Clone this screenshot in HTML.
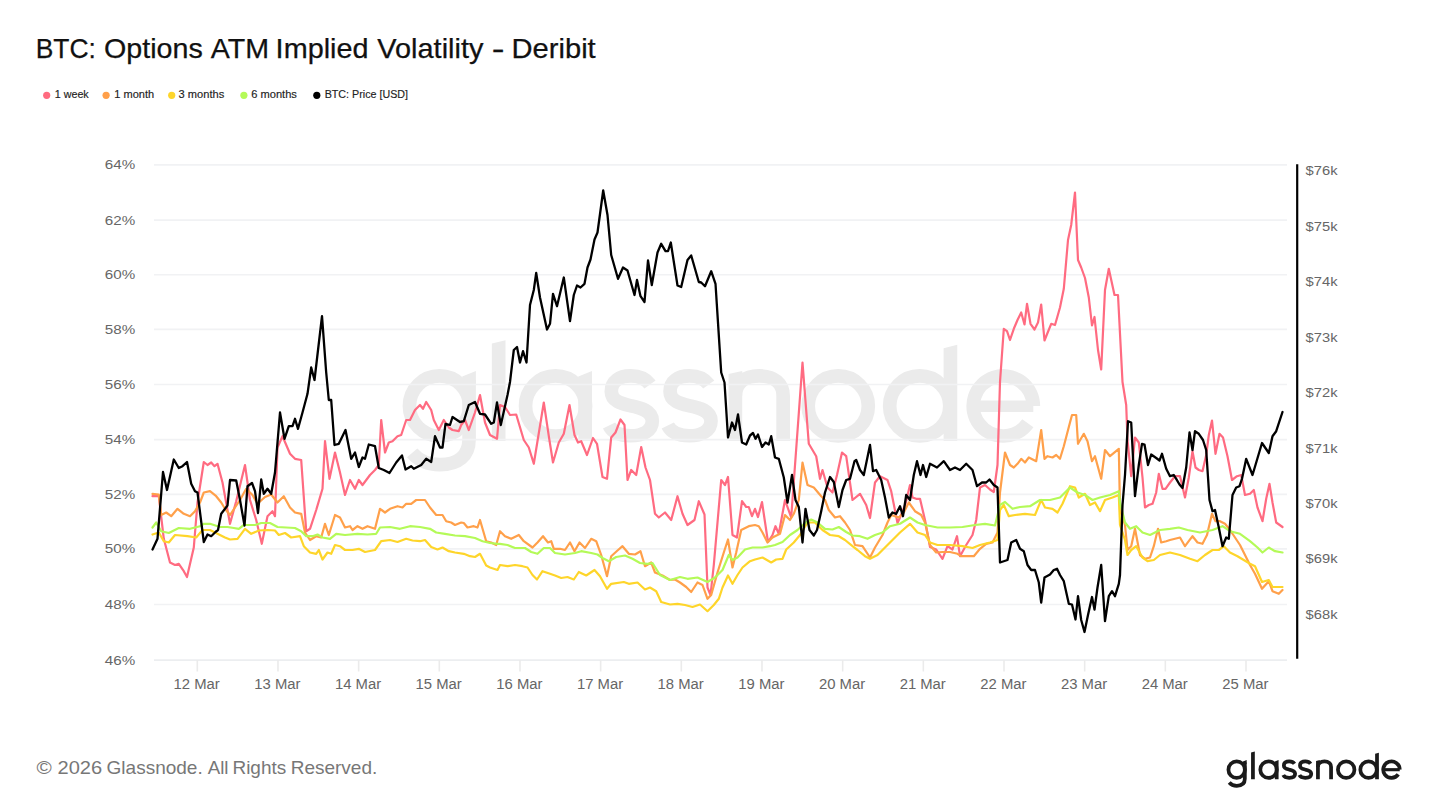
<!DOCTYPE html>
<html><head><meta charset="utf-8"><style>
html,body{margin:0;padding:0;background:#fff;}
body{width:1440px;height:810px;position:relative;overflow:hidden;font-family:"Liberation Sans",sans-serif;}
</style></head><body>
<svg width="1440" height="810" viewBox="0 0 1440 810" style="position:absolute;left:0;top:0">
<text x="35.72" y="58.1" font-size="27.6" fill="#111" stroke="#111" stroke-width="0.25" textLength="60.17" lengthAdjust="spacingAndGlyphs" font-family="Liberation Sans, sans-serif">BTC:</text>
<text x="104.04" y="58.1" font-size="27.6" fill="#111" stroke="#111" stroke-width="0.25" textLength="98.83" lengthAdjust="spacingAndGlyphs" font-family="Liberation Sans, sans-serif">Options</text>
<text x="210.73" y="58.1" font-size="27.6" fill="#111" stroke="#111" stroke-width="0.25" textLength="58.28" lengthAdjust="spacingAndGlyphs" font-family="Liberation Sans, sans-serif">ATM</text>
<text x="275.63" y="58.1" font-size="27.6" fill="#111" stroke="#111" stroke-width="0.25" textLength="92.90" lengthAdjust="spacingAndGlyphs" font-family="Liberation Sans, sans-serif">Implied</text>
<text x="377.36" y="58.1" font-size="27.6" fill="#111" stroke="#111" stroke-width="0.25" textLength="106.05" lengthAdjust="spacingAndGlyphs" font-family="Liberation Sans, sans-serif">Volatility</text>
<text x="491.77" y="58.1" font-size="27.6" fill="#111" stroke="#111" stroke-width="0.25" textLength="12.77" lengthAdjust="spacingAndGlyphs" font-family="Liberation Sans, sans-serif">-</text>
<text x="511.50" y="58.1" font-size="27.6" fill="#111" stroke="#111" stroke-width="0.25" textLength="84.22" lengthAdjust="spacingAndGlyphs" font-family="Liberation Sans, sans-serif">Deribit</text>
<circle cx="46.7" cy="95.3" r="3.6" fill="#ff6b80"/>
<text x="54.75" y="98" font-size="10.5" fill="#222" stroke="#222" stroke-width="0.15" textLength="34" lengthAdjust="spacingAndGlyphs" font-family="Liberation Sans, sans-serif">1 week</text>
<circle cx="106.1" cy="95.3" r="3.6" fill="#ffa04a"/>
<text x="114.3" y="98" font-size="10.5" fill="#222" stroke="#222" stroke-width="0.15" textLength="39.8" lengthAdjust="spacingAndGlyphs" font-family="Liberation Sans, sans-serif">1 month</text>
<circle cx="171.7" cy="95.3" r="3.6" fill="#fed52a"/>
<text x="178.6" y="98" font-size="10.5" fill="#222" stroke="#222" stroke-width="0.15" textLength="45.6" lengthAdjust="spacingAndGlyphs" font-family="Liberation Sans, sans-serif">3 months</text>
<circle cx="243.9" cy="95.3" r="3.6" fill="#b4fa58"/>
<text x="251.3" y="98" font-size="10.5" fill="#222" stroke="#222" stroke-width="0.15" textLength="45.6" lengthAdjust="spacingAndGlyphs" font-family="Liberation Sans, sans-serif">6 months</text>
<circle cx="316.8" cy="95.3" r="3.6" fill="#000"/>
<text x="324.7" y="98" font-size="10.5" fill="#222" stroke="#222" stroke-width="0.15" textLength="83.3" lengthAdjust="spacingAndGlyphs" font-family="Liberation Sans, sans-serif">BTC: Price [USD]</text>
<g transform="translate(386,316.3) scale(0.2276)" fill="none" color="#ebebeb" stroke="currentColor" stroke-width="60"><circle cx="235" cy="394" r="132"/>
<path d="M365,280 L365,540 C365,615 315,652 237,652 C185,652 145,635 115,600"/>
<polygon points="335,264 395,240 395,300 335,300" fill="currentColor" stroke="none"/>
<polygon points="465,120 525,105 525,548 465,548" fill="currentColor" stroke="none"/>
<circle cx="745" cy="394" r="132"/>
<polygon points="845,264 905,240 905,548 845,548" fill="currentColor" stroke="none"/>
<path d="M1160,300 C1140,272 1110,262 1075,262 C1025,262 990,285 990,330 C990,375 1040,385 1075,393 C1120,402 1170,415 1170,460 C1170,505 1125,525 1075,525 C1030,525 995,510 980,480"/>
<path transform="translate(258,0)" d="M1160,300 C1140,272 1110,262 1075,262 C1025,262 990,285 990,330 C990,375 1040,385 1075,393 C1120,402 1170,415 1170,460 C1170,505 1125,525 1075,525 C1030,525 995,510 980,480"/>
<polygon points="1505,254 1565,240 1565,548 1505,548" fill="currentColor" stroke="none"/>
<path d="M1535,350 C1535,295 1575,262 1640,262 C1705,262 1745,295 1745,350 L1745,548"/>
<circle cx="1987" cy="394" r="132"/>
<circle cx="2345" cy="394" r="132"/>
<polygon points="2450,140 2510,125 2510,548 2450,548" fill="currentColor" stroke="none"/>
<path d="M2600,395 L2844,395" stroke-width="50"/>
<path d="M2844,394 A132,132 0 1,0 2820,470"/></g>
<line x1="154" y1="164.94" x2="1287" y2="164.94" stroke="#f1f2f4" stroke-width="1.7"/>
<text x="135.2" y="169.44" font-size="13.7" fill="#666" text-anchor="end" textLength="30.4" lengthAdjust="spacingAndGlyphs" font-family="Liberation Sans, sans-serif">64%</text>
<line x1="154" y1="220.17" x2="1287" y2="220.17" stroke="#f1f2f4" stroke-width="1.7"/>
<text x="135.2" y="224.67" font-size="13.7" fill="#666" text-anchor="end" textLength="30.4" lengthAdjust="spacingAndGlyphs" font-family="Liberation Sans, sans-serif">62%</text>
<line x1="154" y1="274.75" x2="1287" y2="274.75" stroke="#f1f2f4" stroke-width="1.7"/>
<text x="135.2" y="279.25" font-size="13.7" fill="#666" text-anchor="end" textLength="30.4" lengthAdjust="spacingAndGlyphs" font-family="Liberation Sans, sans-serif">60%</text>
<line x1="154" y1="329.33" x2="1287" y2="329.33" stroke="#f1f2f4" stroke-width="1.7"/>
<text x="135.2" y="333.83" font-size="13.7" fill="#666" text-anchor="end" textLength="30.4" lengthAdjust="spacingAndGlyphs" font-family="Liberation Sans, sans-serif">58%</text>
<line x1="154" y1="384.50" x2="1287" y2="384.50" stroke="#f1f2f4" stroke-width="1.7"/>
<text x="135.2" y="389.00" font-size="13.7" fill="#666" text-anchor="end" textLength="30.4" lengthAdjust="spacingAndGlyphs" font-family="Liberation Sans, sans-serif">56%</text>
<line x1="154" y1="439.67" x2="1287" y2="439.67" stroke="#f1f2f4" stroke-width="1.7"/>
<text x="135.2" y="444.17" font-size="13.7" fill="#666" text-anchor="end" textLength="30.4" lengthAdjust="spacingAndGlyphs" font-family="Liberation Sans, sans-serif">54%</text>
<line x1="154" y1="494.30" x2="1287" y2="494.30" stroke="#f1f2f4" stroke-width="1.7"/>
<text x="135.2" y="498.80" font-size="13.7" fill="#666" text-anchor="end" textLength="30.4" lengthAdjust="spacingAndGlyphs" font-family="Liberation Sans, sans-serif">52%</text>
<line x1="154" y1="548.90" x2="1287" y2="548.90" stroke="#f1f2f4" stroke-width="1.7"/>
<text x="135.2" y="553.40" font-size="13.7" fill="#666" text-anchor="end" textLength="30.4" lengthAdjust="spacingAndGlyphs" font-family="Liberation Sans, sans-serif">50%</text>
<line x1="154" y1="604.50" x2="1287" y2="604.50" stroke="#f1f2f4" stroke-width="1.7"/>
<text x="135.2" y="609.00" font-size="13.7" fill="#666" text-anchor="end" textLength="30.4" lengthAdjust="spacingAndGlyphs" font-family="Liberation Sans, sans-serif">48%</text>
<line x1="154" y1="660.06" x2="1287" y2="660.06" stroke="#eceef0" stroke-width="1.7"/>
<text x="135.2" y="664.56" font-size="13.7" fill="#666" text-anchor="end" textLength="30.4" lengthAdjust="spacingAndGlyphs" font-family="Liberation Sans, sans-serif">46%</text>
<line x1="197.30" y1="660" x2="197.30" y2="671.5" stroke="#ebebeb" stroke-width="1.6"/>
<text x="196.70" y="689" font-size="15.2" fill="#666" text-anchor="middle" textLength="46.2" lengthAdjust="spacingAndGlyphs" font-family="Liberation Sans, sans-serif">12 Mar</text>
<line x1="277.97" y1="660" x2="277.97" y2="671.5" stroke="#ebebeb" stroke-width="1.6"/>
<text x="277.37" y="689" font-size="15.2" fill="#666" text-anchor="middle" textLength="46.2" lengthAdjust="spacingAndGlyphs" font-family="Liberation Sans, sans-serif">13 Mar</text>
<line x1="358.64" y1="660" x2="358.64" y2="671.5" stroke="#ebebeb" stroke-width="1.6"/>
<text x="358.04" y="689" font-size="15.2" fill="#666" text-anchor="middle" textLength="46.2" lengthAdjust="spacingAndGlyphs" font-family="Liberation Sans, sans-serif">14 Mar</text>
<line x1="439.31" y1="660" x2="439.31" y2="671.5" stroke="#ebebeb" stroke-width="1.6"/>
<text x="438.71" y="689" font-size="15.2" fill="#666" text-anchor="middle" textLength="46.2" lengthAdjust="spacingAndGlyphs" font-family="Liberation Sans, sans-serif">15 Mar</text>
<line x1="519.98" y1="660" x2="519.98" y2="671.5" stroke="#ebebeb" stroke-width="1.6"/>
<text x="519.38" y="689" font-size="15.2" fill="#666" text-anchor="middle" textLength="46.2" lengthAdjust="spacingAndGlyphs" font-family="Liberation Sans, sans-serif">16 Mar</text>
<line x1="600.65" y1="660" x2="600.65" y2="671.5" stroke="#ebebeb" stroke-width="1.6"/>
<text x="600.05" y="689" font-size="15.2" fill="#666" text-anchor="middle" textLength="46.2" lengthAdjust="spacingAndGlyphs" font-family="Liberation Sans, sans-serif">17 Mar</text>
<line x1="681.32" y1="660" x2="681.32" y2="671.5" stroke="#ebebeb" stroke-width="1.6"/>
<text x="680.72" y="689" font-size="15.2" fill="#666" text-anchor="middle" textLength="46.2" lengthAdjust="spacingAndGlyphs" font-family="Liberation Sans, sans-serif">18 Mar</text>
<line x1="761.99" y1="660" x2="761.99" y2="671.5" stroke="#ebebeb" stroke-width="1.6"/>
<text x="761.39" y="689" font-size="15.2" fill="#666" text-anchor="middle" textLength="46.2" lengthAdjust="spacingAndGlyphs" font-family="Liberation Sans, sans-serif">19 Mar</text>
<line x1="842.66" y1="660" x2="842.66" y2="671.5" stroke="#ebebeb" stroke-width="1.6"/>
<text x="842.06" y="689" font-size="15.2" fill="#666" text-anchor="middle" textLength="46.2" lengthAdjust="spacingAndGlyphs" font-family="Liberation Sans, sans-serif">20 Mar</text>
<line x1="923.33" y1="660" x2="923.33" y2="671.5" stroke="#ebebeb" stroke-width="1.6"/>
<text x="922.73" y="689" font-size="15.2" fill="#666" text-anchor="middle" textLength="46.2" lengthAdjust="spacingAndGlyphs" font-family="Liberation Sans, sans-serif">21 Mar</text>
<line x1="1004.00" y1="660" x2="1004.00" y2="671.5" stroke="#ebebeb" stroke-width="1.6"/>
<text x="1003.40" y="689" font-size="15.2" fill="#666" text-anchor="middle" textLength="46.2" lengthAdjust="spacingAndGlyphs" font-family="Liberation Sans, sans-serif">22 Mar</text>
<line x1="1084.67" y1="660" x2="1084.67" y2="671.5" stroke="#ebebeb" stroke-width="1.6"/>
<text x="1084.07" y="689" font-size="15.2" fill="#666" text-anchor="middle" textLength="46.2" lengthAdjust="spacingAndGlyphs" font-family="Liberation Sans, sans-serif">23 Mar</text>
<line x1="1165.34" y1="660" x2="1165.34" y2="671.5" stroke="#ebebeb" stroke-width="1.6"/>
<text x="1164.74" y="689" font-size="15.2" fill="#666" text-anchor="middle" textLength="46.2" lengthAdjust="spacingAndGlyphs" font-family="Liberation Sans, sans-serif">24 Mar</text>
<line x1="1246.01" y1="660" x2="1246.01" y2="671.5" stroke="#ebebeb" stroke-width="1.6"/>
<text x="1245.41" y="689" font-size="15.2" fill="#666" text-anchor="middle" textLength="46.2" lengthAdjust="spacingAndGlyphs" font-family="Liberation Sans, sans-serif">25 Mar</text>
<line x1="1297.2" y1="164.3" x2="1297.2" y2="658.8" stroke="#000" stroke-width="2.2"/>
<text x="1305.6" y="175.40" font-size="13.7" fill="#666" textLength="31.9" lengthAdjust="spacingAndGlyphs" font-family="Liberation Sans, sans-serif">$76k</text>
<text x="1305.6" y="230.83" font-size="13.7" fill="#666" textLength="31.9" lengthAdjust="spacingAndGlyphs" font-family="Liberation Sans, sans-serif">$75k</text>
<text x="1305.6" y="286.26" font-size="13.7" fill="#666" textLength="31.9" lengthAdjust="spacingAndGlyphs" font-family="Liberation Sans, sans-serif">$74k</text>
<text x="1305.6" y="341.69" font-size="13.7" fill="#666" textLength="31.9" lengthAdjust="spacingAndGlyphs" font-family="Liberation Sans, sans-serif">$73k</text>
<text x="1305.6" y="397.12" font-size="13.7" fill="#666" textLength="31.9" lengthAdjust="spacingAndGlyphs" font-family="Liberation Sans, sans-serif">$72k</text>
<text x="1305.6" y="452.55" font-size="13.7" fill="#666" textLength="31.9" lengthAdjust="spacingAndGlyphs" font-family="Liberation Sans, sans-serif">$71k</text>
<text x="1305.6" y="507.98" font-size="13.7" fill="#666" textLength="31.9" lengthAdjust="spacingAndGlyphs" font-family="Liberation Sans, sans-serif">$70k</text>
<text x="1305.6" y="563.41" font-size="13.7" fill="#666" textLength="31.9" lengthAdjust="spacingAndGlyphs" font-family="Liberation Sans, sans-serif">$69k</text>
<text x="1305.6" y="618.84" font-size="13.7" fill="#666" textLength="31.9" lengthAdjust="spacingAndGlyphs" font-family="Liberation Sans, sans-serif">$68k</text>
<path d="M152.5,496.2 L158.8,496.2 L163.8,538.8 L170.0,562.5 L175.0,565.0 L178.8,563.8 L183.8,571.2 L187.0,577.0 L193.8,547.5 L197.5,502.5 L203.8,462.0 L207.5,465.0 L211.2,462.5 L214.5,466.2 L217.5,463.8 L222.5,482.5 L230.0,523.8 L236.2,501.2 L245.0,465.0 L250.0,500.0 L256.2,520.0 L261.8,543.8 L267.5,516.2 L272.5,511.2 L275.0,516.2 L277.5,447.5 L282.5,436.2 L290.0,453.8 L295.0,458.8 L301.2,460.0 L306.2,531.2 L310.0,528.8 L316.2,510.0 L322.5,488.8 L325.0,441.2 L329.5,478.8 L335.0,452.5 L340.0,472.5 L345.0,495.0 L350.0,480.0 L355.0,488.8 L358.8,480.0 L362.5,485.0 L370.0,475.0 L375.0,470.0 L378.8,465.0 L381.2,420.0 L385.0,452.5 L388.8,442.5 L392.5,441.2 L397.5,436.2 L401.2,435.0 L406.2,420.0 L410.0,420.0 L415.0,410.0 L420.0,405.0 L423.0,408.8 L426.2,402.0 L431.2,410.0 L433.8,420.0 L438.8,430.0 L443.8,420.0 L448.8,427.5 L452.5,430.0 L458.8,431.2 L461.2,425.0 L465.0,420.0 L468.8,430.0 L475.0,412.5 L480.0,395.0 L485.0,422.5 L490.0,435.0 L497.0,438.8 L500.0,405.0 L505.0,407.0 L510.0,415.0 L516.2,414.5 L523.8,440.0 L528.8,447.5 L533.8,463.8 L543.8,402.5 L548.8,436.2 L553.0,462.5 L558.8,442.5 L563.8,433.8 L569.5,405.0 L574.5,435.0 L578.0,442.5 L581.2,441.2 L587.0,455.0 L593.0,438.0 L597.0,443.8 L602.5,477.0 L607.0,478.8 L611.2,437.5 L615.5,432.5 L620.5,419.5 L624.5,425.0 L627.5,480.0 L631.2,470.0 L636.2,475.0 L641.2,447.0 L645.5,467.5 L650.0,480.0 L655.0,513.8 L658.8,517.5 L665.0,512.5 L671.2,520.0 L677.5,496.2 L682.5,513.8 L687.5,525.0 L694.5,520.0 L698.8,501.2 L704.5,514.5 L707.5,587.5 L710.5,595.0 L713.8,565.0 L721.2,480.0 L725.0,485.0 L728.0,477.0 L732.5,535.0 L737.0,537.5 L742.0,501.2 L746.2,507.0 L748.8,507.0 L752.0,516.2 L755.0,508.8 L758.0,517.0 L762.0,502.0 L768.0,542.0 L772.5,535.0 L775.5,526.2 L778.8,533.8 L785.0,500.0 L791.2,517.5 L802.5,362.5 L808.8,443.8 L816.2,456.2 L820.0,478.8 L822.5,470.0 L827.5,487.5 L832.5,492.5 L837.0,475.0 L842.0,452.5 L846.2,456.2 L852.5,500.0 L860.0,493.8 L866.2,505.0 L870.0,518.0 L875.0,482.5 L880.0,476.2 L887.5,480.0 L891.2,491.2 L897.5,523.0 L900.0,517.5 L905.5,503.8 L910.0,485.0 L912.5,497.5 L916.2,498.8 L920.0,498.8 L925.0,520.0 L930.0,547.0 L936.2,549.5 L942.5,558.8 L947.5,546.2 L952.5,549.5 L957.0,536.2 L960.0,556.2 L966.2,545.0 L972.5,535.0 L976.2,520.0 L980.0,487.5 L985.0,485.0 L990.0,489.5 L993.8,492.0 L997.5,465.0 L1000.0,382.0 L1003.8,328.8 L1007.0,331.2 L1010.0,340.0 L1013.8,328.8 L1017.5,320.0 L1021.2,312.5 L1024.5,324.5 L1027.0,303.8 L1030.5,323.8 L1034.5,329.5 L1038.0,322.5 L1041.2,304.5 L1044.5,340.5 L1047.5,333.0 L1051.2,323.8 L1055.0,325.0 L1060.0,307.5 L1063.8,288.8 L1068.0,240.0 L1071.2,225.0 L1075.0,192.5 L1078.0,260.0 L1081.2,267.5 L1085.0,278.0 L1088.8,297.5 L1092.0,325.5 L1094.5,317.0 L1098.0,350.0 L1101.2,369.5 L1105.0,290.0 L1108.8,268.8 L1114.5,295.0 L1118.0,295.0 L1122.5,382.0 L1123.8,390.0 L1126.2,405.0 L1127.5,440.0 L1131.2,476.2 L1135.0,437.5 L1138.8,442.5 L1142.5,477.5 L1145.0,507.5 L1148.8,505.0 L1152.5,503.8 L1156.2,492.5 L1158.8,473.8 L1162.5,488.8 L1165.5,488.8 L1170.0,482.5 L1175.0,476.2 L1180.0,476.2 L1185.0,497.5 L1188.8,477.5 L1192.5,451.2 L1195.5,467.5 L1198.8,470.0 L1202.5,471.2 L1206.2,455.0 L1208.8,435.0 L1212.0,420.5 L1215.5,453.8 L1219.5,433.8 L1223.0,437.5 L1227.5,456.2 L1232.0,480.0 L1237.0,476.2 L1241.2,475.0 L1245.0,495.0 L1250.0,493.8 L1253.8,490.0 L1257.5,507.5 L1262.5,521.2 L1266.2,498.8 L1269.5,483.8 L1272.5,502.5 L1276.2,522.5 L1282.5,527.0" fill="none" stroke="#ff6b81" stroke-width="2.2" stroke-linejoin="round" stroke-linecap="round"/>
<path d="M152.5,493.8 L158.8,494.5 L161.2,515.0 L166.2,512.5 L171.2,516.2 L177.5,508.8 L183.8,513.8 L190.0,516.2 L195.0,511.2 L200.0,502.5 L203.8,492.5 L210.0,491.2 L216.2,496.2 L221.2,502.5 L225.0,508.8 L230.0,515.0 L235.0,507.5 L240.0,500.0 L246.2,488.8 L252.5,495.0 L257.5,503.8 L265.0,497.0 L271.2,494.5 L277.5,502.5 L283.8,496.2 L290.0,507.5 L295.0,512.5 L301.2,513.8 L305.0,532.5 L310.0,540.0 L316.2,536.2 L321.2,537.5 L325.0,523.8 L328.8,535.0 L335.0,515.0 L340.0,517.5 L345.0,527.5 L350.0,526.2 L352.5,530.0 L357.5,526.2 L362.5,528.8 L367.5,526.2 L375.0,528.8 L380.0,508.8 L385.0,512.5 L390.0,508.8 L397.5,506.2 L402.5,507.5 L406.2,503.8 L411.2,503.8 L416.2,500.0 L425.0,500.0 L430.0,507.5 L436.2,515.0 L442.5,515.0 L446.2,521.2 L451.2,522.5 L455.0,525.0 L461.2,522.5 L463.8,523.0 L467.5,527.5 L473.8,526.2 L477.5,527.5 L480.0,520.0 L486.2,541.2 L491.2,542.5 L496.2,545.0 L500.0,531.2 L505.0,536.2 L511.2,538.8 L518.8,535.0 L523.8,541.2 L532.5,547.5 L537.5,542.5 L543.0,536.2 L548.0,542.5 L551.2,541.2 L553.8,548.8 L560.0,548.8 L565.0,550.0 L570.0,542.5 L574.5,551.2 L579.5,542.5 L585.0,548.0 L591.2,538.8 L596.2,541.2 L601.2,555.0 L607.0,576.2 L611.2,556.2 L617.5,550.5 L622.5,546.2 L628.8,553.8 L635.0,554.5 L640.5,551.2 L645.0,566.2 L651.2,562.5 L655.0,572.5 L662.5,575.5 L670.0,580.0 L675.0,579.5 L680.0,582.5 L686.2,587.0 L691.2,592.0 L697.5,582.5 L702.5,585.0 L707.5,598.8 L711.2,595.0 L717.5,572.5 L723.8,552.5 L728.0,539.5 L732.5,567.5 L736.2,552.5 L741.2,530.0 L748.8,526.2 L755.0,525.0 L758.8,526.2 L762.5,532.5 L767.5,542.5 L772.5,537.5 L780.0,533.8 L785.0,515.0 L790.0,520.0 L793.8,513.8 L798.8,500.0 L802.5,462.5 L807.5,485.0 L813.8,487.5 L821.2,496.2 L825.0,500.0 L828.8,510.0 L835.0,517.5 L840.0,516.2 L845.0,522.5 L850.0,530.0 L855.0,545.0 L862.5,546.2 L870.0,557.5 L875.0,547.5 L882.5,535.0 L887.5,522.5 L891.2,515.0 L898.8,517.5 L903.8,512.5 L908.8,502.5 L915.0,511.2 L921.2,515.0 L925.0,522.5 L930.0,545.0 L936.2,552.5 L942.5,552.0 L950.0,552.0 L957.5,553.8 L961.2,556.2 L968.8,556.2 L973.8,556.2 L980.0,548.8 L986.2,543.8 L992.5,542.5 L997.5,532.5 L1000.0,492.5 L1005.0,452.5 L1010.0,465.0 L1013.8,467.5 L1017.5,463.8 L1021.2,458.8 L1025.0,462.5 L1028.8,457.5 L1036.2,461.2 L1041.2,430.0 L1044.5,458.8 L1047.5,456.2 L1052.5,457.5 L1056.2,455.0 L1060.0,458.8 L1063.8,446.2 L1070.0,422.5 L1072.0,415.0 L1076.2,415.0 L1078.0,443.8 L1083.8,433.8 L1087.5,441.2 L1092.0,461.2 L1095.0,456.2 L1101.2,478.8 L1105.0,450.0 L1110.0,456.2 L1118.8,448.8 L1120.0,510.0 L1125.0,525.0 L1127.5,550.0 L1131.2,546.2 L1135.0,528.8 L1140.0,555.0 L1145.0,558.8 L1150.0,557.5 L1153.8,546.2 L1158.0,528.8 L1161.2,542.5 L1166.2,541.2 L1170.0,540.0 L1175.0,538.8 L1180.0,537.5 L1185.0,546.2 L1192.5,536.2 L1197.5,542.5 L1202.5,543.8 L1207.0,535.0 L1212.0,513.8 L1215.5,521.2 L1220.0,521.2 L1225.0,523.8 L1230.0,530.0 L1235.0,537.5 L1240.0,545.0 L1250.0,565.0 L1255.0,573.8 L1262.0,588.8 L1268.8,581.2 L1272.5,591.2 L1278.8,593.8 L1282.5,590.0" fill="none" stroke="#ffa04a" stroke-width="2.2" stroke-linejoin="round" stroke-linecap="round"/>
<path d="M152.5,534.5 L158.8,532.5 L163.8,541.2 L168.8,542.5 L175.0,535.0 L187.5,536.2 L196.2,537.5 L202.5,530.0 L210.0,530.0 L217.5,533.8 L225.0,537.5 L230.0,539.5 L237.5,538.8 L245.0,528.8 L251.2,533.8 L258.8,530.5 L267.5,530.0 L275.0,530.5 L278.8,535.0 L285.0,533.0 L291.2,537.5 L300.0,536.2 L303.8,546.2 L310.0,552.5 L316.2,553.8 L318.8,550.0 L322.5,559.5 L327.5,552.5 L331.2,553.8 L335.0,545.0 L340.0,546.2 L345.0,550.0 L352.5,550.0 L358.8,548.8 L365.0,552.0 L375.0,550.0 L381.2,541.2 L390.0,540.0 L397.5,542.0 L406.2,538.8 L412.5,540.5 L420.0,541.2 L425.0,540.0 L431.2,547.0 L437.5,549.5 L442.5,547.5 L448.8,551.2 L455.0,552.5 L463.8,553.8 L470.0,556.2 L475.0,557.0 L480.0,553.8 L486.2,565.5 L490.0,567.5 L497.5,570.0 L500.0,565.0 L507.5,566.2 L515.0,565.0 L522.5,566.2 L527.5,567.5 L532.5,575.0 L537.0,579.5 L542.5,571.2 L550.0,573.8 L555.0,575.5 L561.2,578.0 L567.5,577.0 L573.8,579.5 L578.8,572.0 L586.2,575.5 L594.5,570.0 L600.0,576.2 L607.0,588.8 L611.2,583.8 L623.8,582.0 L628.8,583.8 L637.5,582.5 L645.0,589.5 L650.0,587.5 L656.2,591.2 L661.2,602.0 L670.0,604.5 L677.5,603.8 L685.0,605.0 L692.5,607.0 L700.0,604.5 L707.5,611.2 L713.8,605.0 L718.8,598.8 L722.5,587.5 L728.0,575.5 L732.5,583.8 L737.5,575.0 L742.5,567.5 L750.0,561.2 L755.0,559.5 L762.5,557.5 L771.2,562.5 L776.2,559.5 L782.5,558.8 L786.2,549.5 L793.8,542.5 L800.0,535.0 L807.5,522.5 L815.0,522.5 L822.5,530.0 L830.0,535.0 L838.8,536.2 L845.0,540.0 L852.5,546.2 L857.5,550.0 L865.0,556.2 L870.0,558.8 L877.5,555.0 L885.0,547.5 L892.5,540.0 L900.0,532.5 L910.0,523.8 L917.5,532.5 L925.0,535.0 L930.0,542.5 L937.5,545.0 L950.0,545.0 L962.5,546.2 L972.5,548.0 L980.0,545.0 L990.0,542.5 L997.5,540.0 L1000.0,510.0 L1003.8,505.0 L1008.8,516.2 L1015.0,515.0 L1025.0,513.8 L1035.0,515.0 L1041.2,500.0 L1045.0,507.5 L1052.5,508.8 L1057.5,512.5 L1062.5,503.8 L1070.0,486.2 L1075.0,487.5 L1078.8,497.5 L1085.0,493.8 L1090.0,505.0 L1095.0,502.5 L1100.0,511.2 L1105.0,500.0 L1112.5,497.5 L1118.8,495.0 L1120.0,525.0 L1125.0,540.0 L1127.5,555.0 L1131.2,550.0 L1136.2,546.2 L1142.5,557.5 L1147.5,561.2 L1153.8,560.0 L1160.0,555.0 L1170.0,552.5 L1180.0,555.0 L1190.0,558.8 L1197.5,561.2 L1205.0,555.0 L1212.5,550.0 L1218.8,550.0 L1223.8,546.2 L1230.0,552.5 L1237.5,556.2 L1250.0,563.8 L1255.0,566.2 L1262.0,582.0 L1268.8,580.0 L1272.5,587.0 L1282.5,587.0" fill="none" stroke="#fed52a" stroke-width="2.2" stroke-linejoin="round" stroke-linecap="round"/>
<path d="M152.5,527.5 L156.2,522.5 L161.2,531.2 L168.8,533.0 L178.8,528.0 L190.0,528.8 L200.0,526.2 L203.8,523.8 L210.0,523.8 L220.0,527.0 L227.5,527.0 L233.8,528.0 L238.8,528.8 L243.8,525.0 L255.0,525.0 L261.2,523.0 L270.0,523.0 L277.5,527.0 L286.2,527.5 L295.0,528.0 L301.2,531.2 L306.2,536.2 L312.5,536.2 L317.5,534.5 L322.5,537.5 L330.0,538.8 L336.2,533.8 L345.0,535.0 L357.5,533.8 L367.5,534.5 L376.2,533.8 L380.0,527.5 L390.0,527.0 L400.0,528.8 L410.0,526.2 L420.0,527.0 L430.0,528.8 L436.2,532.5 L445.0,533.8 L455.0,535.5 L465.0,536.2 L475.0,538.0 L482.5,541.2 L490.0,543.0 L497.5,543.8 L500.0,543.8 L507.5,545.0 L515.0,548.0 L525.0,548.0 L531.2,552.0 L537.5,553.8 L543.8,548.0 L550.0,548.0 L555.0,553.0 L565.0,554.5 L575.0,553.0 L581.2,551.2 L591.2,553.0 L597.5,554.5 L602.5,558.0 L608.8,561.2 L616.2,557.0 L625.0,555.5 L632.5,558.8 L640.0,563.0 L647.5,563.8 L652.5,563.0 L660.0,575.0 L670.0,580.0 L680.0,577.0 L687.5,578.8 L697.5,577.5 L707.5,582.0 L715.0,577.5 L722.5,570.0 L728.8,555.0 L732.5,560.0 L737.5,557.5 L745.0,549.5 L752.5,547.5 L762.5,547.5 L770.0,546.2 L775.0,545.0 L782.5,542.0 L790.0,535.0 L797.5,530.0 L805.0,523.0 L811.2,519.5 L817.5,522.5 L825.0,528.8 L832.5,529.5 L838.8,527.0 L846.2,532.0 L852.5,535.5 L860.0,536.2 L867.5,538.8 L875.0,535.0 L882.5,532.5 L890.0,526.2 L900.0,523.8 L910.0,517.5 L917.5,522.5 L925.0,525.0 L937.5,527.5 L950.0,527.5 L962.5,527.0 L975.0,525.0 L985.0,523.8 L995.0,525.5 L1000.0,505.0 L1005.0,502.0 L1012.5,508.8 L1020.0,507.0 L1030.0,506.2 L1040.0,500.0 L1050.0,500.0 L1060.0,497.5 L1070.0,487.5 L1077.5,492.5 L1085.0,495.0 L1092.5,500.0 L1100.0,497.5 L1110.0,495.0 L1118.8,491.2 L1120.0,502.5 L1125.0,522.5 L1130.0,528.8 L1136.2,526.2 L1142.5,532.5 L1150.0,535.0 L1160.0,530.0 L1170.0,528.8 L1178.8,527.5 L1187.5,530.0 L1200.0,532.5 L1212.5,530.0 L1222.5,526.2 L1230.0,531.2 L1240.0,533.8 L1250.0,541.2 L1257.5,547.5 L1262.5,552.5 L1268.8,547.5 L1275.0,551.2 L1282.5,552.5" fill="none" stroke="#b4fa58" stroke-width="2.2" stroke-linejoin="round" stroke-linecap="round"/>
<path d="M152.5,549.5 L157.5,538.8 L163.0,472.0 L167.0,490.0 L173.8,459.5 L178.8,468.0 L182.5,466.2 L187.0,462.0 L191.2,483.8 L195.0,491.2 L197.5,492.5 L203.8,542.0 L207.5,534.5 L211.2,536.2 L215.5,532.0 L218.0,530.0 L221.2,513.8 L227.5,505.5 L230.0,480.0 L236.2,480.5 L240.0,500.0 L244.5,525.5 L247.5,486.2 L252.0,483.0 L255.0,491.2 L258.0,513.0 L261.2,479.5 L263.8,493.8 L267.5,488.8 L271.2,493.8 L275.0,472.5 L280.0,412.5 L284.5,438.8 L288.8,426.2 L292.5,426.2 L295.0,418.8 L298.0,428.8 L302.5,412.5 L307.5,393.8 L311.2,367.5 L314.5,380.0 L322.0,316.2 L326.2,372.5 L328.8,400.0 L331.2,400.0 L334.5,445.0 L338.8,443.8 L345.5,430.0 L351.2,458.8 L355.0,452.5 L358.8,467.0 L362.5,457.5 L365.0,458.8 L368.8,444.5 L375.0,446.2 L378.8,468.0 L383.8,470.0 L389.5,473.0 L396.2,462.5 L402.0,455.5 L405.5,469.5 L411.2,466.2 L413.8,468.8 L421.2,465.0 L426.2,458.8 L431.2,462.0 L435.0,436.2 L440.0,447.5 L442.5,447.5 L445.5,423.8 L450.0,425.0 L452.5,417.0 L460.0,422.0 L463.8,421.2 L468.8,405.0 L475.0,402.0 L480.0,413.8 L485.0,414.5 L491.2,423.8 L493.8,422.5 L497.0,402.5 L500.8,425.0 L507.5,395.0 L510.0,382.0 L513.8,350.0 L517.0,347.0 L520.0,362.5 L523.0,351.2 L526.5,362.5 L530.0,305.0 L533.8,290.0 L536.2,273.0 L540.0,297.5 L547.0,329.5 L550.0,323.8 L553.0,293.8 L557.0,306.2 L563.8,277.5 L570.0,321.2 L573.8,295.0 L577.0,285.5 L580.5,287.5 L584.5,283.8 L587.5,267.5 L590.5,259.5 L594.5,239.5 L597.5,232.5 L603.2,190.5 L607.5,215.0 L611.2,255.0 L618.0,278.8 L623.0,267.5 L627.5,270.5 L634.5,295.0 L637.0,280.0 L640.5,296.2 L644.5,302.0 L648.0,260.5 L651.8,285.0 L657.5,252.5 L661.2,243.8 L665.5,251.2 L668.0,251.2 L670.8,242.5 L677.5,285.5 L681.2,287.0 L687.5,260.0 L691.2,255.5 L698.8,282.0 L701.2,282.5 L705.0,286.2 L711.2,271.2 L715.5,283.8 L721.2,372.5 L724.5,382.5 L728.0,437.5 L732.0,422.5 L735.0,430.0 L738.0,414.5 L742.0,442.5 L746.2,444.5 L750.0,435.5 L753.0,433.0 L755.5,438.8 L758.0,434.5 L762.0,447.0 L765.5,442.5 L768.8,444.5 L771.2,436.2 L775.0,457.5 L778.8,458.8 L783.8,477.5 L787.5,502.5 L792.0,475.0 L795.5,500.0 L798.8,507.0 L802.5,542.5 L805.5,508.8 L809.5,530.0 L813.8,535.5 L817.0,530.0 L821.2,511.2 L825.0,492.5 L830.0,477.0 L833.8,482.0 L838.8,507.0 L842.5,490.0 L846.2,480.0 L850.0,478.8 L854.5,461.2 L856.2,460.0 L860.0,470.0 L863.8,475.0 L870.0,445.0 L873.0,471.2 L876.2,470.0 L881.2,480.0 L885.0,497.5 L888.8,517.5 L892.5,512.5 L896.2,513.8 L900.0,506.2 L903.0,516.2 L906.2,495.0 L910.0,500.0 L913.8,475.0 L917.0,461.2 L920.5,475.0 L923.0,465.0 L926.2,477.0 L930.0,463.8 L937.0,467.5 L943.8,461.2 L950.0,470.0 L955.0,467.5 L960.0,470.0 L966.2,463.8 L972.5,470.0 L977.0,486.2 L982.0,482.5 L986.2,482.5 L989.5,479.5 L993.8,485.0 L997.5,487.5 L1000.0,562.5 L1007.5,560.0 L1011.2,542.5 L1016.2,540.0 L1020.0,548.8 L1023.8,551.2 L1027.5,565.0 L1031.2,570.0 L1035.0,570.0 L1038.8,582.5 L1041.2,602.5 L1044.5,577.5 L1050.0,574.5 L1053.8,570.0 L1057.0,568.8 L1060.0,575.0 L1063.8,581.2 L1068.8,603.8 L1072.0,604.5 L1075.5,619.5 L1078.0,596.2 L1081.2,620.0 L1084.5,632.0 L1088.0,615.0 L1092.0,597.0 L1094.5,609.5 L1097.5,587.5 L1101.2,565.0 L1105.0,621.2 L1108.8,596.2 L1112.0,591.2 L1115.0,596.2 L1118.8,583.8 L1120.0,575.0 L1122.5,505.0 L1125.0,475.0 L1128.0,421.2 L1131.2,422.5 L1135.0,496.2 L1138.8,465.0 L1142.0,443.8 L1144.5,444.5 L1148.0,465.0 L1151.2,454.5 L1156.2,458.0 L1159.5,460.5 L1162.0,453.8 L1166.2,468.8 L1170.0,476.2 L1173.8,475.0 L1176.2,478.8 L1179.5,484.5 L1182.5,488.0 L1186.2,467.5 L1189.5,432.5 L1192.5,450.0 L1195.0,431.2 L1198.8,433.8 L1203.0,440.0 L1206.2,450.0 L1209.5,500.0 L1212.5,511.2 L1215.0,510.0 L1218.8,527.5 L1222.5,546.2 L1226.2,537.5 L1228.8,538.8 L1232.5,495.0 L1236.2,487.5 L1239.5,486.2 L1242.0,478.8 L1246.2,458.8 L1252.5,475.0 L1262.0,443.0 L1268.8,453.0 L1272.5,436.2 L1276.2,431.2 L1282.5,412.0" fill="none" stroke="#000" stroke-width="2.3" stroke-linejoin="round" stroke-linecap="round"/>
<text x="36.59" y="774" font-size="18.6" fill="#777" textLength="15.26" lengthAdjust="spacingAndGlyphs" font-family="Liberation Sans, sans-serif">©</text>
<text x="57.50" y="774" font-size="18.6" fill="#777" textLength="44.65" lengthAdjust="spacingAndGlyphs" font-family="Liberation Sans, sans-serif">2026</text>
<text x="106.55" y="774" font-size="18.6" fill="#777" textLength="96.19" lengthAdjust="spacingAndGlyphs" font-family="Liberation Sans, sans-serif">Glassnode.</text>
<text x="207.70" y="774" font-size="18.6" fill="#777" textLength="20.79" lengthAdjust="spacingAndGlyphs" font-family="Liberation Sans, sans-serif">All</text>
<text x="232.43" y="774" font-size="18.6" fill="#777" textLength="53.82" lengthAdjust="spacingAndGlyphs" font-family="Liberation Sans, sans-serif">Rights</text>
<text x="290.68" y="774" font-size="18.6" fill="#777" textLength="86.63" lengthAdjust="spacingAndGlyphs" font-family="Liberation Sans, sans-serif">Reserved.</text>
<g transform="translate(1222,745) scale(0.0625)" fill="none" color="#1a1a1a" stroke="currentColor" stroke-width="60"><circle cx="235" cy="394" r="132"/>
<path d="M365,280 L365,540 C365,615 315,652 237,652 C185,652 145,635 115,600"/>
<polygon points="335,264 395,240 395,300 335,300" fill="currentColor" stroke="none"/>
<polygon points="465,120 525,105 525,548 465,548" fill="currentColor" stroke="none"/>
<circle cx="745" cy="394" r="132"/>
<polygon points="845,264 905,240 905,548 845,548" fill="currentColor" stroke="none"/>
<path d="M1160,300 C1140,272 1110,262 1075,262 C1025,262 990,285 990,330 C990,375 1040,385 1075,393 C1120,402 1170,415 1170,460 C1170,505 1125,525 1075,525 C1030,525 995,510 980,480"/>
<path transform="translate(258,0)" d="M1160,300 C1140,272 1110,262 1075,262 C1025,262 990,285 990,330 C990,375 1040,385 1075,393 C1120,402 1170,415 1170,460 C1170,505 1125,525 1075,525 C1030,525 995,510 980,480"/>
<polygon points="1505,254 1565,240 1565,548 1505,548" fill="currentColor" stroke="none"/>
<path d="M1535,350 C1535,295 1575,262 1640,262 C1705,262 1745,295 1745,350 L1745,548"/>
<circle cx="1987" cy="394" r="132"/>
<circle cx="2345" cy="394" r="132"/>
<polygon points="2450,140 2510,125 2510,548 2450,548" fill="currentColor" stroke="none"/>
<path d="M2600,395 L2844,395" stroke-width="50"/>
<path d="M2844,394 A132,132 0 1,0 2820,470"/></g>
</svg>
</body></html>
